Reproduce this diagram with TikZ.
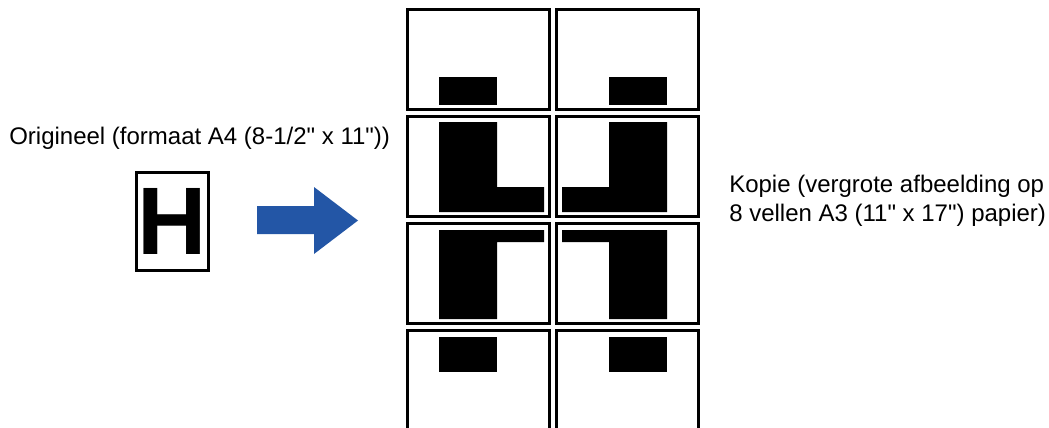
\documentclass[tikz,border=0pt]{standalone}
\usepackage{fontspec}
\setmainfont{Liberation Sans}[Ligatures=TeXOff]
\usetikzlibrary{positioning}
\definecolor{arrowblue}{HTML}{2356A6}

\begin{document}
\begin{tikzpicture}[
      x=0.75pt, y=-0.75pt,
      sheet/.style={rectangle, draw, line width=2.25pt, minimum width=106.5pt, minimum height=75pt, inner sep=0pt},
      label/.style={inner sep=0pt, font=\fontsize{18pt}{21.75pt}\selectfont},
      ink/.style={fill=black}
    ]
    \useasboundingbox (0,0) rectangle (1049,428);
    \clip (0,0) rectangle (1049,428);
    % original page
    \node[rectangle, draw, line width=2.25pt, minimum width=54pt, minimum height=73.5pt, inner sep=0pt,
      font=\fontsize{72pt}{72pt}\selectfont\bfseries] (orig) at (172.5,221.5) {H};
    \node[label, anchor=base west] (origtext) at (9,144) {Origineel (formaat A4 (8-1/2" x 11"))};
    \fill[arrowblue] (257,206) -- (314,206) -- (314,187) -- (358,220.5) -- (314,254) -- (314,234) -- (257,234) -- cycle;
    % enlarged copy on 8 sheets
    \node[sheet] (s11) at (478.5,59.5) {};
    \node[sheet, right=3pt of s11] (s12) {};
    \node[sheet, below=3pt of s11] (s21) {};
    \node[sheet, right=3pt of s21] (s22) {};
    \node[sheet, below=3pt of s21] (s31) {};
    \node[sheet, right=3pt of s31] (s32) {};
    \node[sheet, below=3pt of s31] (s41) {};
    \node[sheet, right=3pt of s41] (s42) {};
    \fill[ink] (439,77) rectangle (497,105);
    \fill[ink] (609,77) rectangle (667,105);
    \fill[ink] (439,122) -- (497,122) -- (497,187) -- (544,187) -- (544,212) -- (439,212) -- cycle;
    \fill[ink] (667,122) -- (609,122) -- (609,187) -- (562,187) -- (562,212) -- (667,212) -- cycle;
    \fill[ink] (439,230) -- (544,230) -- (544,242) -- (497,242) -- (497,319) -- (439,319) -- cycle;
    \fill[ink] (667,230) -- (562,230) -- (562,242) -- (609,242) -- (609,319) -- (667,319) -- cycle;
    \fill[ink] (439,337) rectangle (497,372);
    \fill[ink] (609,337) rectangle (667,372);
    \node[label, anchor=base west, align=left] (copytext) at (729,221) {Kopie (vergrote afbeelding op\\8 vellen A3 (11" x 17") papier)};
\end{tikzpicture}
\end{document}
